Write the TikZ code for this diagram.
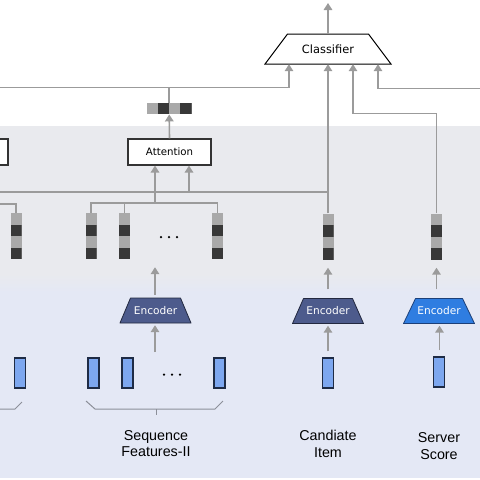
\documentclass[tikz,border=0pt]{standalone}
\usepackage{fontspec}
\setmainfont{Liberation Sans}
\newfontfamily\comicf{DejaVu Sans}
\usetikzlibrary{arrows.meta,calc}
\definecolor{bandgrey}{HTML}{E9EAEE}
\definecolor{bandblue}{HTML}{E4E8F5}
\definecolor{argrey}{HTML}{9B9B9B}
\definecolor{vlight}{HTML}{A9A9A9}
\definecolor{vdark}{HTML}{383838}
\definecolor{encfill}{HTML}{4D5B8C}
\definecolor{encline}{HTML}{22283F}
\definecolor{srvfill}{HTML}{2F7DE1}
\definecolor{srvline}{HTML}{1C3F78}
\definecolor{infill}{HTML}{7DA7EF}
\definecolor{inline}{HTML}{1E2B45}
\definecolor{boxline}{HTML}{333333}
\definecolor{bracec}{HTML}{8C8F99}
% trapezoid: centre x, centre y, half bottom width, half top width, half height, style
\newcommand\mytrap[6]{\filldraw[#6] (#1-#3,#2+#5) -- (#1-#4,#2-#5) -- (#1+#4,#2-#5) -- (#1+#3,#2+#5) -- cycle;}
\begin{document}
\begin{tikzpicture}[x=1pt,y=-1pt,
  conn/.style={draw=argrey, line width=1.6pt},
  arr/.style={conn, -{Triangle[width=8.5pt,length=7pt]}},
  gvec/.style={minimum width=11pt, minimum height=46pt, inner sep=0pt, fill=vlight,
    path picture={
      \fill[vdark] ($(path picture bounding box.north west)!.25!(path picture bounding box.south west)$) rectangle (path picture bounding box.east);
      \fill[vdark] ($(path picture bounding box.north west)!.75!(path picture bounding box.south west)$) rectangle (path picture bounding box.south east);
    }},
  hvec/.style={minimum width=45pt, minimum height=11.5pt, inner sep=0pt, fill=vlight,
    path picture={
      \fill[vdark] ($(path picture bounding box.south west)!.25!(path picture bounding box.south east)$) rectangle (path picture bounding box.north);
      \fill[vdark] ($(path picture bounding box.south west)!.75!(path picture bounding box.south east)$) rectangle (path picture bounding box.north east);
    }},
  invec/.style={minimum width=11pt, minimum height=30pt, inner sep=0pt, fill=infill, draw=inline, line width=1.1pt},
  enctrap/.style={fill=encfill, draw=encline, line width=0.8pt, line join=round},
  srvtrap/.style={fill=srvfill, draw=srvline, line width=0.8pt, line join=round},
  clftrap/.style={fill=white, draw=black, line width=1pt},
  enctext/.style={minimum width=71pt, minimum height=25pt, inner sep=0pt, text=white,
    font=\comicf\fontsize{10.6}{12}\selectfont},
  clftext/.style={minimum width=126pt, minimum height=30pt, inner sep=0pt,
    font=\comicf\fontsize{11.4}{13}\selectfont},
  attbox/.style={minimum width=83pt, minimum height=26pt, inner sep=0pt, fill=white,
    draw=boxline, line width=1.2pt, font=\comicf\fontsize{10.2}{12}\selectfont},
  lbl/.style={anchor=north, align=center, inner sep=0pt, font=\fontsize{14.3}{16.6}\selectfont},
  dotsn/.style={inner sep=0pt, minimum size=2pt},
  brace/.style={draw=bracec, line width=1pt}
]
\useasboundingbox (0,0) rectangle (480,480);
% bands
\fill[bandgrey] (0,126) rectangle (480,274);
\shade[top color=bandgrey, bottom color=bandblue] (0,274) rectangle (480,292);
\fill[bandblue] (0,292) rectangle (480,477.5);

% trapezoid outlines
\mytrap{328}{49}{63}{40.5}{15}{clftrap}
\mytrap{155.5}{310.5}{35.5}{25}{12.5}{enctrap}
\mytrap{328}{311}{35.5}{24.5}{12.5}{enctrap}
\mytrap{439}{311}{35.5}{23.5}{12.5}{srvtrap}

% nodes
\node[clftext] (clf) at (328,49) {Classifier};
\node[attbox] (att) at (169.5,152) {Attention};
\node[attbox] (lbox) at (-33.5,152) {};
\node[hvec] (mini) at (169.2,108.5) {};

\node[gvec] (gL) at (16,236) {};
\node[gvec] (g1) at (91,236) {};
\node[gvec] (g2) at (124.5,236) {};
\node[gvec] (g3) at (217.5,236) {};
\node[gvec] (gC) at (328,236.5) {};
\node[gvec] (gS) at (436.5,236.5) {};
\node[dotsn] (dotsA) at (169,237) {};

\node[enctext] (encA) at (155.5,310.5) {Encoder};
\node[enctext] (encC) at (328,311) {Encoder};
\node[enctext] (encS) at (439,311) {Encoder};

\node[invec] (iL) at (20,373) {};
\node[invec] (i1) at (93.5,373) {};
\node[invec] (i2) at (127.5,373) {};
\node[invec] (i3) at (219.5,373) {};
\node[invec] (iC) at (328,373) {};
\node[invec] (iS) at (439,372) {};
\node[dotsn] (dotsB) at (172,374.5) {};

\foreach \d in {-8,0,8} {
  \fill[black] ([xshift=\d pt]dotsA.center) circle (1.25pt);
  \fill[black] ([xshift=\d pt]dotsB.center) circle (1.25pt);
}

\node[lbl] (labA) at (156,430) {Sequence\\Features-II};
\node[lbl] (labC) at (328,430) {Candiate\\Item};
\node[lbl] (labS) at (439,432.5) {Server\\Score};

% coordinates
\coordinate (out) at (328,3);
\coordinate (l1w) at (-5,87.5);
\coordinate (k1) at (289,87.5);
\coordinate (l2w) at (-5,192);
\coordinate (k2) at (189,192);
\coordinate (k3) at (155,203);
\coordinate (l3w) at (-5,204);
\coordinate (k4) at (353,113.3);
\coordinate (l4e) at (485,88.3);
\coordinate (k5) at (378,88.3);
\coordinate (inA) at (155,352);

% connectors
\draw[arr] (clf.north) -- (out);
\draw[arr] (l1w) -- (k1) -- (k1 |- clf.south);
\draw[conn] (mini.north) -- (mini.north |- k1);
\draw[arr] (att.north) -- (mini.south);
\draw[arr] (gC.north) -- (gC.north |- clf.south);
\draw[conn] (l2w) -- (l2w -| gC.north);
\draw[arr] (k2) -- (k2 |- att.south);
\draw[arr] (k3) -- (k3 |- att.south);
\draw[conn] (g1.north) -- (g1.north |- k3) -- (g3.north |- k3) -- (g3.north);
\draw[conn] (g2.north) -- (g2.north |- k3);
\draw[conn] (l3w) -| (gL.north);
\draw[arr] (gS.north) |- (k4) -- (k4 |- clf.south);
\draw[arr] (l4e) -- (k5) -- (k5 |- clf.south);

\draw[arr, shorten <=3pt, shorten >=8pt] (encA.north -| k3) -- (k3 |- g1.south);
\draw[arr, shorten <=9pt, shorten >=8pt] (encC.north) -- (gC.south);
\draw[arr, shorten <=9pt, shorten >=8pt] (gS.south |- encS.north) -- (gS.south);

\draw[arr, shorten >=2pt] (inA) -- (inA |- encA.south);
\draw[arr, shorten <=6pt, shorten >=2pt] (iC.north) -- (encC.south);
\draw[arr, shorten <=6pt, shorten >=2pt] ([xshift=0.5pt]iS.north) -- ([xshift=0.5pt]encS.south);

% braces
\draw[brace] (86,401) -- (95,409) -- (215,409) -- (223,401);
\draw[brace] (156,409) -- (156,415);
\draw[brace] (-5,409) -- (15,409) -- (22,402);
\end{tikzpicture}
\end{document}
